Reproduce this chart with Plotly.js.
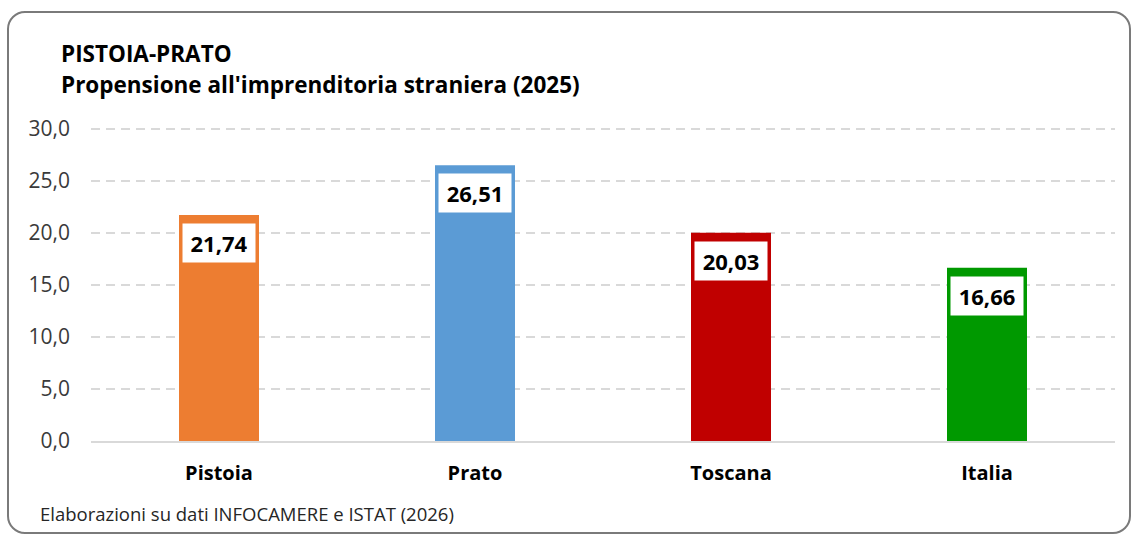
<!DOCTYPE html>
<html>
<head>
<meta charset="utf-8">
<script src="https://cdn.plot.ly/plotly-3.0.1.min.js"></script>
<style>
  html, body { margin: 0; padding: 0; background: #ffffff; }
  #wrap { position: relative; width: 1132px; height: 535px; overflow: hidden; }
  #chart { position: absolute; left: 0; top: 0; width: 1132px; height: 535px; }
  #frame { position: absolute; left: 7px; top: 11px; width: 1124px; height: 523px;
           box-sizing: border-box; border: 2px solid #7a7a7a; border-radius: 18px; pointer-events: none; }
</style>
</head>
<body>
<div id="wrap">
  <div id="chart"></div>
  <div id="frame"></div>
</div>
<script>
// ---- data ----
const categories = ["Pistoia", "Prato", "Toscana", "Italia"];
const values = [21.74, 26.51, 20.03, 16.66];
const barColors = ["#ED7D31", "#5B9BD5", "#C00000", "#009900"];
const titleLine1 = "PISTOIA-PRATO";
const titleLine2 = "Propensione all'imprenditoria straniera (2025)";
const footnote = "Elaborazioni su dati INFOCAMERE e ISTAT (2026)";
const yTickValues = [0, 5, 10, 15, 20, 25, 30];

const FONT = "'Open Sans', 'Noto Sans', sans-serif";

const trace = {
  type: "bar",
  x: categories,
  y: values,
  marker: { color: barColors, line: { width: 0 } },
  hoverinfo: "skip"
};

const valueLabels = categories.map((c, i) => ({
  x: c, y: values[i], xref: "x", yref: "y",
  text: values[i].toFixed(2).replace(".", ","),
  showarrow: false, yanchor: "top", xanchor: "center", yshift: -8,
  bgcolor: "#ffffff", borderpad: 0, width: 72, height: 38,
  font: { family: FONT, size: 22, color: "#000000", weight: "bold" }
}));

const layout = {
  width: 1132, height: 535,
  margin: { l: 91, r: 17, t: 128, b: 94 },
  paper_bgcolor: "#ffffff", plot_bgcolor: "#ffffff",
  separators: ",.",
  showlegend: false,
  bargap: 0.6875,
  font: { family: FONT, color: "#000000" },
  xaxis: {
    type: "category",
    showgrid: false, zeroline: false,
    showline: true, linecolor: "#d9d9d9", linewidth: 2,
    ticks: "", ticklabelstandoff: 13,
    tickfont: { family: FONT, size: 20, color: "#000000", weight: "bold" },
    fixedrange: true
  },
  yaxis: {
    range: [0, 30.1],
    tickvals: yTickValues, tickformat: ".1f",
    showgrid: true, gridcolor: "#d9d9d9", gridwidth: 2, griddash: "9px,6px",
    zeroline: false, showline: false, ticks: "",
    ticklabelstandoff: 20,
    tickfont: { family: FONT, size: 21, color: "#3a3a3a" },
    fixedrange: true
  },
  annotations: [
    { text: titleLine1, xref: "paper", yref: "paper", x: -0.03125, y: 1.2396,
      xanchor: "left", yanchor: "middle", showarrow: false,
      font: { family: FONT, size: 22.5, color: "#000000", weight: "bold" } },
    { text: titleLine2, xref: "paper", yref: "paper", x: -0.03125, y: 1.1374,
      xanchor: "left", yanchor: "middle", showarrow: false,
      font: { family: FONT, size: 22.5, color: "#000000", weight: "bold" } },
    { text: footnote, xref: "paper", yref: "paper", x: -0.0518, y: -0.2308,
      xanchor: "left", yanchor: "middle", showarrow: false,
      font: { family: FONT, size: 18.5, color: "#262626" } }
  ].concat(valueLabels)
};

Plotly.newPlot("chart", [trace], layout, { staticPlot: true, displayModeBar: false });
</script>
</body>
</html>
